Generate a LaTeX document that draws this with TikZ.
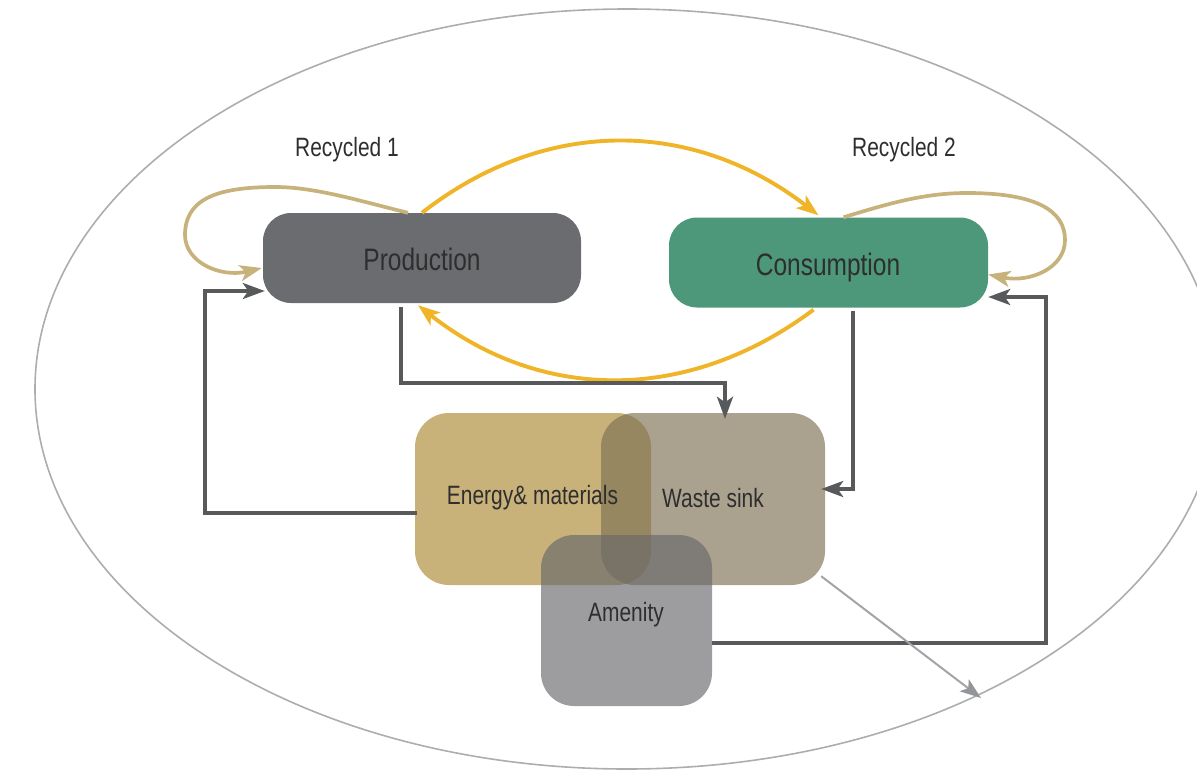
\documentclass[tikz,border=0pt]{standalone}
\usepackage{fontspec}
\setmainfont{Liberation Sans}[FakeStretch=0.79]
\usetikzlibrary{arrows.meta,calc}
\definecolor{prodc}{HTML}{6B6C70}
\definecolor{consc}{HTML}{4D977B}
\definecolor{enc}{HTML}{C9B27A}
\definecolor{wsc}{HTML}{7C7053}
\definecolor{amc}{HTML}{68686B}
\definecolor{yel}{HTML}{F0B428}
\definecolor{tanc}{HTML}{C8B27C}
\definecolor{gline}{HTML}{58595B}
\definecolor{ellc}{HTML}{ABADB0}
\definecolor{thinc}{HTML}{A3A4A7}
\definecolor{thintip}{HTML}{939598}
\definecolor{txt}{HTML}{2E2E2E}
\begin{document}
\begin{tikzpicture}[x=1pt,y=-1pt,
  box/.style={rectangle, inner sep=0pt, draw=none},
  lbl/.style={inner sep=0pt, anchor=base, text=txt},
  big/.style={font=\fontsize{31}{36}\selectfont},
  small/.style={font=\fontsize{26.5}{31}\selectfont},
  tipped/.style={-{Stealth[length=22pt,width=16pt,inset=5.5pt]}},
  yarrow/.style={tipped, draw=yel, line width=3.9pt},
  tarrow/.style={tipped, draw=tanc, line width=3.7pt},
  garrow/.style={tipped, draw=gline, line width=3.6pt, line join=miter},
  thinarrow/.style={-{Stealth[length=21pt,width=15pt,inset=5pt,color=thintip]}, draw=thinc, line width=2pt},
  boundary/.style={draw=ellc, line width=1.6pt}
]
\useasboundingbox (0,0) rectangle (1197,771);
\clip (0,0) rectangle (1197,771);

% outer boundary
\draw[boundary] (627,389) ellipse [x radius=592, y radius=380];

% boxes
\node[box, fill=prodc, rounded corners=28pt, minimum width=318pt, minimum height=90pt] (prod) at (422,258) {};
\node[box, fill=consc, rounded corners=28pt, minimum width=319pt, minimum height=90pt] (cons) at (828.5,262.5) {};
\node[box, fill=enc, rounded corners=34pt, minimum width=236pt, minimum height=172pt] (em) at (533,499) {};
\node[box, fill=wsc, fill opacity=0.65, rounded corners=34pt, minimum width=224pt, minimum height=172pt] (ws) at (713,499) {};
\node[box, fill=amc, fill opacity=0.65, rounded corners=33pt, minimum width=171pt, minimum height=171pt] (am) at (626.5,620.5) {};

% yellow arcs
\draw[yarrow] (prod.north) .. controls (546,116) and (694,119) .. ($(cons.north)+(-10,-2)$);
\draw[yarrow] ($(cons.south)+(-15,2)$) .. controls (689,403) and (542,403) .. ($(prod.south)+(-4,2)$);

% recycling loops
\draw[tarrow] ($(prod.north)+(-14,0)$) .. controls (360,201) and (315,187) .. (275,187)
   .. controls (215,187) and (185,200) .. (185,235)
   .. controls (185,262) and (220,278) .. ($(prod.west)+(-1,10)$);
\draw[tarrow] ($(cons.north)+(15,0)$) .. controls (890,203) and (925,193) .. (967,193)
   .. controls (1035,193) and (1065,210) .. (1065,240)
   .. controls (1065,268) and (1030,283) .. ($(cons.east)+(0,12)$);

% gray flows
\draw[garrow] ($(prod.south)+(-21,4)$) |- ($(ws.north)+(12,-30)$) -- ($(ws.north)+(12,6)$);
\draw[garrow] ($(cons.south)+(24.5,3)$) |- ($(ws.east)+(-4,-10)$);
\draw[garrow] ($(em.west)+(2,14)$) -- ++(-212,0) |- ($(prod.west)+(2,33)$);
\draw[garrow] ($(am.east)+(0,22.5)$) -- ++(334,0) |- ($(cons.east)+(0,34.5)$);

% waste out of the system
\coordinate (edge) at (981,698);
\draw[thinarrow] ($(ws.south east)+(-4,-9)$) -- (edge);

% labels
\node[lbl,big] (lprod) at ($(prod.center)+(0,12)$) {Production};
\node[lbl,big] (lcons) at ($(cons.center)+(-0.5,12.5)$) {Consumption};
\node[lbl,small] (lem) at ($(em.center)+(-0.5,5)$) {Energy\& materials};
\node[lbl,small] (lws) at ($(ws.center)+(0,8)$) {Waste sink};
\node[lbl,small] (lam) at ($(am.center)+(-0.5,0.5)$) {Amenity};
\node[lbl,small] (lr1) at (347,156) {Recycled 1};
\node[lbl,small] (lr2) at (904,156) {Recycled 2};
\end{tikzpicture}
\end{document}
